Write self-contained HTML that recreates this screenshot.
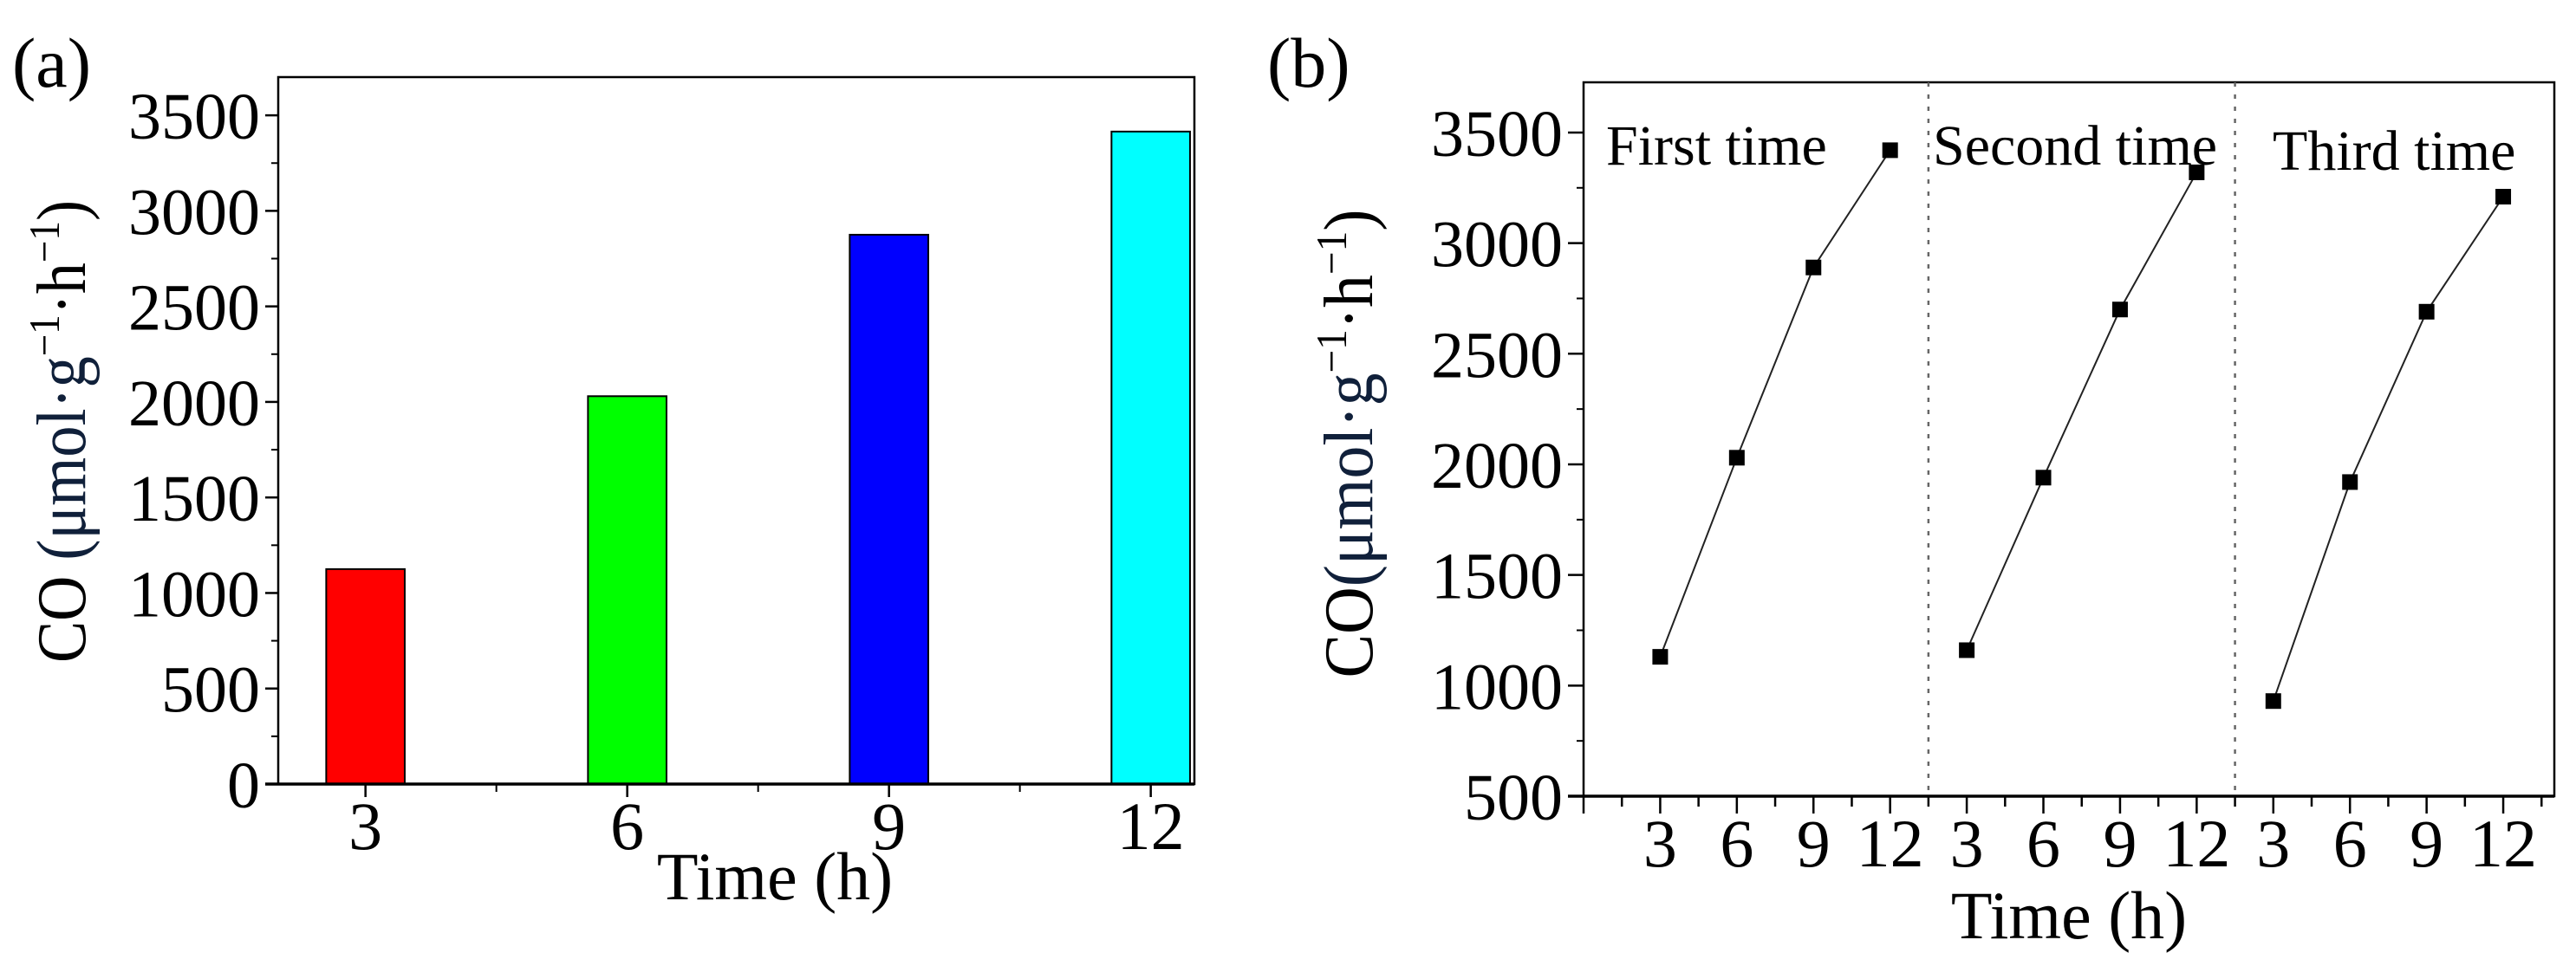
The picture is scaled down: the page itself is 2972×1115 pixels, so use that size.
<!DOCTYPE html>
<html><head><meta charset="utf-8"><style>
html,body{margin:0;padding:0;background:#fff;}
svg{display:block;font-family:"Liberation Serif",serif;}
</style></head><body>
<svg id="fig" width="2972" height="1115" viewBox="0 0 2972 1115" xmlns="http://www.w3.org/2000/svg">
<g id="pa"></g>
<g id="pb"></g>
</svg>
<script>
// Panel (a) data
const barTimes = [3, 6, 9, 12];
const barValues = [1125, 2030, 2875, 3415];
const barColors = ["#ff0000", "#00ff00", "#0000ff", "#00ffff"];
const yTicksA = [0, 500, 1000, 1500, 2000, 2500, 3000, 3500];
// Panel (b) data
const runTimes = [3, 6, 9, 12];
const run1 = [1130, 2030, 2890, 3420];
const run2 = [1160, 1940, 2700, 3320];
const run3 = [930, 1920, 2690, 3210];
const runLabels = ["First time", "Second time", "Third time"];
const yTicksB = [500, 1000, 1500, 2000, 2500, 3000, 3500];

const NS = "http://www.w3.org/2000/svg";
function mk(parent, tag, attrs, text) {
  const e = document.createElementNS(NS, tag);
  for (const k in attrs) e.setAttribute(k, attrs[k]);
  if (text !== undefined) e.textContent = text;
  parent.appendChild(e);
  return e;
}

// ---------- Panel A ----------
const pa = document.getElementById('pa');
const A = {l: 321, r: 1378, t: 89, b: 905, x0: 2, x1: 12.5, y0: 0, y1: 3700};
const xA = v => A.l + (v - A.x0) / (A.x1 - A.x0) * (A.r - A.l);
const yA = v => A.b - (v - A.y0) / (A.y1 - A.y0) * (A.b - A.t);

const lblA = mk(pa, 'text', {x: 14, y: 100, 'font-size': 82}, '(a)');



barTimes.forEach((t, i) => {
  const w = xA(t + 0.45) - xA(t - 0.45);
  const r = mk(pa, 'rect', {x: xA(t - 0.45), y: yA(barValues[i]), width: w, height: yA(0) - yA(barValues[i]), fill: barColors[i], stroke: '#000', 'stroke-width': 2});
  
  
});

const frameA = mk(pa, 'rect', {x: A.l, y: A.t, width: A.r - A.l, height: A.b - A.t, fill: 'none', stroke: '#000', 'stroke-width': 2.5});


mk(pa, 'line', {x1: A.l - 15, x2: A.r, y1: A.b, y2: A.b, stroke: '#000', 'stroke-width': 3.5});

yTicksA.forEach(v => {
  mk(pa, 'line', {x1: A.l - 15, x2: A.l, y1: yA(v), y2: yA(v), stroke: '#000', 'stroke-width': 2.5});
  if (v + 250 < A.y1) mk(pa, 'line', {x1: A.l - 8, x2: A.l, y1: yA(v + 250), y2: yA(v + 250), stroke: '#000', 'stroke-width': 2});
  const tl = mk(pa, 'text', {x: 300, y: yA(v) + 27, 'font-size': 76, 'text-anchor': 'end'}, String(v));
  
  
});
barTimes.forEach((t, i) => {
  mk(pa, 'line', {x1: xA(t), x2: xA(t), y1: A.b, y2: A.b + 15, stroke: '#000', 'stroke-width': 2.5});
  if (i < barTimes.length - 1) mk(pa, 'line', {x1: xA(t + 1.5), x2: xA(t + 1.5), y1: A.b, y2: A.b + 9, stroke: '#000', 'stroke-width': 2});
  const tl = mk(pa, 'text', {x: xA(t), y: 980, 'font-size': 78, 'text-anchor': 'middle'}, String(t));
  
  
});
const xtA = mk(pa, 'text', {x: 894, y: 1038, 'font-size': 78, 'text-anchor': 'middle'}, 'Time (h)');



function yTitle(parent, cx, cy, len, name, sep) {
  const t = mk(parent, 'text', {x: 0, y: 0, 'font-size': 80, 'text-anchor': 'middle', transform: `translate(${cx},${cy}) rotate(-90)`, textLength: len, lengthAdjust: 'spacingAndGlyphs'});
  
  
  mk(t, 'tspan', {}, 'CO' + sep);
  mk(t, 'tspan', {fill: '#10203a'}, '(μmol·g');
  mk(t, 'tspan', {'font-size': 50, dy: -30}, '−1');
  mk(t, 'tspan', {dy: 30}, '·h');
  mk(t, 'tspan', {'font-size': 50, dy: -30}, '−1');
  mk(t, 'tspan', {dy: 30}, ')');
}
yTitle(pa, 98, 498, 534, 'y-axis-title-a', ' ');

// ---------- Panel B ----------
const pb = document.getElementById('pb');
const B = {l: 1827, r: 2947, t: 95, b: 919, x0: 0, x1: 38, y0: 500, y1: 3727};
const xB = p => B.l + (p - B.x0) / (B.x1 - B.x0) * (B.r - B.l);
const yB = v => B.b - (v - B.y0) / (B.y1 - B.y0) * (B.b - B.t);

const lblB = mk(pb, 'text', {x: 1462, y: 100, 'font-size': 82}, '(b)');



const frameB = mk(pb, 'rect', {x: B.l, y: B.t, width: B.r - B.l, height: B.b - B.t, fill: 'none', stroke: '#000', 'stroke-width': 2.5});


mk(pb, 'line', {x1: B.l - 18, x2: B.r, y1: B.b, y2: B.b, stroke: '#000', 'stroke-width': 3.5});

[13.5, 25.5].forEach(p => {
  const d = mk(pb, 'line', {x1: xB(p), x2: xB(p), y1: B.t, y2: B.b, stroke: '#666', 'stroke-width': 2.5, 'stroke-dasharray': '5 9'});
  
  
});

yTicksB.forEach(v => {
  mk(pb, 'line', {x1: B.l - 18, x2: B.l, y1: yB(v), y2: yB(v), stroke: '#000', 'stroke-width': 2.5});
  if (v + 250 < B.y1) mk(pb, 'line', {x1: B.l - 8, x2: B.l, y1: yB(v + 250), y2: yB(v + 250), stroke: '#000', 'stroke-width': 2});
  const tl = mk(pb, 'text', {x: 1803, y: yB(v) + 27, 'font-size': 76, 'text-anchor': 'end'}, String(v));
  
  
});
for (let k = 0; k <= 25; k++) {
  const p = k * 1.5;
  const major = (k % 2 === 0);
  mk(pb, 'line', {x1: xB(p), x2: xB(p), y1: B.b, y2: B.b + (major ? 20 : 12), stroke: '#000', 'stroke-width': 2.5});
}
const runs = [run1, run2, run3];
runs.forEach((vals, g) => {
  runTimes.forEach(t => {
    const tl = mk(pb, 'text', {x: xB(g * 12 + t), y: 1000, 'font-size': 78, 'text-anchor': 'middle'}, String(t));
    
    
  });
  const pts = runTimes.map((t, i) => xB(g * 12 + t) + ',' + yB(vals[i])).join(' ');
  const pl = mk(pb, 'polyline', {points: pts, fill: 'none', stroke: '#222', 'stroke-width': 2});
  
  
  runTimes.forEach((t, i) => {
    const m = mk(pb, 'rect', {x: xB(g * 12 + t) - 9, y: yB(vals[i]) - 9, width: 18, height: 18, fill: '#000'});
    
    
  });
});
const labX = [1853, 2230, 2622];
const labY = [190, 190, 196];
runLabels.forEach((s, i) => {
  const tl = mk(pb, 'text', {x: labX[i], y: labY[i], 'font-size': 66}, s);
  
  
});
const xtB = mk(pb, 'text', {x: 2387, y: 1083, 'font-size': 78, 'text-anchor': 'middle'}, 'Time (h)');


yTitle(pb, 1583, 512, 541, 'y-axis-title-b', '');
</script>
</body></html>
